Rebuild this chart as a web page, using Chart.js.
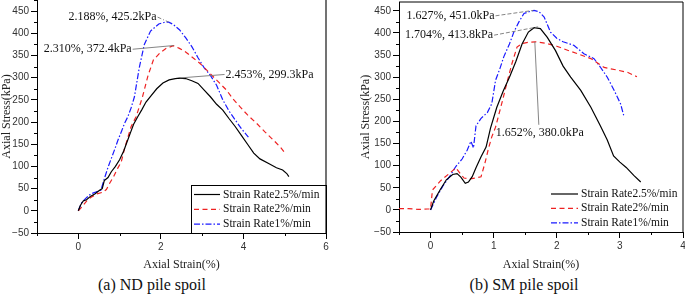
<!DOCTYPE html>
<html><head><meta charset="utf-8">
<script src="https://cdn.jsdelivr.net/npm/chart.js@4/dist/chart.umd.min.js"></script>
<style>
html,body{margin:0;padding:0;background:#fff;overflow:hidden;width:685px;height:295px;}
canvas{position:absolute;top:0;}
.cap{position:absolute;font-family:'Liberation Serif','Times New Roman',serif;font-size:16px;color:#111;white-space:nowrap;transform:translate(-50%,-50%);}
</style></head><body>
<canvas id="cA" width="340" height="272" style="left:0"></canvas>
<canvas id="cB" width="345" height="272" style="left:345px"></canvas>
<div class="cap" style="left:152px;top:285px">(a) ND pile spoil</div>
<div class="cap" style="left:524px;top:285px">(b) SM pile spoil</div>
<script>
// ---------- data ----------
const seriesLabels = ['Strain Rate2.5%/min','Strain Rate2%/min','Strain Rate1%/min'];
const ndRate25 = [[0,0],[0.05,12],[0.12,22],[0.2,25],[0.3,33],[0.4,38],[0.5,45],[0.58,50],[0.63,68],[0.72,75],[0.8,88],[0.9,100],[1.0,115],[1.1,135],[1.18,155],[1.26,175],[1.34,195],[1.44,212],[1.54,228],[1.64,245],[1.77,260],[1.9,275],[2.05,288],[2.2,295],[2.35,298],[2.45,299],[2.6,298],[2.75,293],[2.9,287],[3.05,272],[3.2,257],[3.35,240],[3.5,227],[3.65,208],[3.8,190],[3.95,170],[4.1,150],[4.25,130],[4.4,117],[4.6,107],[4.8,97],[4.95,92],[5.05,84],[5.1,77]];
const ndRate2 = [[0,0],[0.1,10],[0.2,22],[0.3,30],[0.45,38],[0.6,42],[0.68,48],[0.76,62],[0.86,78],[0.95,95],[1.04,110],[1.12,140],[1.2,165],[1.28,190],[1.4,212],[1.55,255],[1.69,305],[1.82,340],[1.97,355],[2.13,366],[2.3,372],[2.45,366],[2.6,358],[2.8,343],[2.95,332],[3.1,318],[3.27,302],[3.43,287],[3.59,272],[3.75,252],[3.92,234],[4.1,216],[4.32,197],[4.52,178],[4.73,159],[4.9,143],[5.01,130]];
const ndRate1 = [[0,0],[0.08,18],[0.18,28],[0.3,38],[0.42,42],[0.55,47],[0.63,72],[0.72,98],[0.8,118],[0.88,138],[0.96,159],[1.05,180],[1.12,197],[1.2,212],[1.28,232],[1.36,257],[1.48,324],[1.6,375],[1.75,405],[1.95,421],[2.1,425],[2.19,425],[2.3,420],[2.45,408],[2.6,390],[2.75,370],[2.9,345],[3.05,322],[3.2,305],[3.35,283],[3.5,250],[3.65,225],[3.8,205],[3.95,185],[4.05,174],[4.12,166]];
const smRate25 = [[0,0],[0.05,20],[0.15,45],[0.25,68],[0.35,80],[0.42,82],[0.48,74],[0.55,60],[0.6,63],[0.66,75],[0.72,95],[0.8,120],[0.88,142],[0.95,185],[1.05,232],[1.15,268],[1.25,300],[1.35,335],[1.45,375],[1.55,402],[1.64,412],[1.74,410],[1.85,390],[1.98,360],[2.1,325],[2.22,300],[2.38,270],[2.54,232],[2.69,190],[2.8,158],[2.9,122],[3.0,108],[3.1,96],[3.22,78],[3.33,63]];
const smRate2 = [[-0.5,3],[-0.35,3],[-0.2,1],[-0.05,2],[0,2],[0.03,45],[0.16,66],[0.32,85],[0.4,95],[0.47,82],[0.53,72],[0.62,70],[0.72,72],[0.8,75],[0.86,105],[0.92,140],[0.97,165],[1.03,187],[1.09,220],[1.14,247],[1.22,293],[1.29,331],[1.37,368],[1.45,376],[1.55,379],[1.66,380],[1.85,376],[2.0,370],[2.17,361],[2.35,352],[2.54,342],[2.75,322],[2.96,316],[3.12,311],[3.27,301]];
const smRate1 = [[0,0],[0.05,15],[0.1,30],[0.2,55],[0.3,75],[0.4,98],[0.5,115],[0.58,135],[0.64,155],[0.68,140],[0.72,190],[0.8,207],[0.9,220],[0.97,240],[1.03,293],[1.1,320],[1.16,346],[1.25,375],[1.32,402],[1.4,425],[1.48,444],[1.56,448],[1.64,451],[1.72,448],[1.8,436],[1.9,402],[2.0,388],[2.1,380],[2.27,372],[2.43,353],[2.59,342],[2.69,323],[2.8,300],[2.91,270],[3.01,240],[3.06,214]];
// annotated peaks [strain, stress] : rate2.5, rate2, rate1
const ndPeaks = [[2.453,299.3],[2.310,372.4],[2.188,425.2]];
const smPeaks = [[1.704,413.8],[1.652,380.0],[1.627,451.0]];
// tick labels
const yTicks = [-50,0,50,100,150,200,250,300,350,400,450];
const ndXTicks = [0,2,4,6];
const smXTicks = [0,1,2,3,4];

// ---------- styles ----------
const colors = ['#000000','#ee2222','#1a1aff'];
const dashes = [[], [5,3.5], [6,2,1.5,2]];
const tickFont = {family:"'Liberation Sans', Arial, sans-serif", size:10};
const titleFont = {family:"'Liberation Serif','Times New Roman',serif", size:12};
const fmt = v => String(v).replace('-', '\u2212');
const mids = arr => { const r=[]; for(let i=0;i<arr.length-1;i++) r.push((arr[i]+arr[i+1])/2); return r; };

function datasets(series){
  return series.map((s,i)=>({
    label: seriesLabels[i],
    data: s.map(p=>({x:p[0],y:p[1]})),
    borderColor: colors[i], borderWidth: 1.2, borderDash: dashes[i],
    pointRadius: 0, tension: 0, fill: false
  }));
}

function scales(xr, xTicks, yr, yWidth, xHeight, yTitlePad){
  return {
    x:{type:'linear',min:xr[0],max:xr[1],
      afterBuildTicks:s=>{s.ticks=xTicks.map(v=>({value:v}));},
      afterFit:s=>{s.height=xHeight;s.paddingLeft=0;s.paddingRight=0;},
      grid:{drawOnChartArea:false,drawTicks:true,tickLength:6,tickColor:'#000',tickWidth:1},
      border:{display:true,color:'#000',width:1},
      ticks:{font:tickFont,color:'#333',padding:2,maxRotation:0,autoSkip:false,callback:v=>fmt(v)},
      title:{display:true,text:'Axial Strain(%)',font:titleFont,color:'#222',padding:{top:0,bottom:0}}
    },
    y:{type:'linear',min:yr[0],max:yr[1],
      afterBuildTicks:s=>{s.ticks=yTicks.map(v=>({value:v}));},
      afterFit:s=>{s.width=yWidth;s.paddingTop=0;s.paddingBottom=0;},
      grid:{drawOnChartArea:false,drawTicks:true,tickLength:6,tickColor:'#000',tickWidth:1},
      border:{display:true,color:'#000',width:1},
      ticks:{font:tickFont,color:'#333',padding:2,autoSkip:false,callback:v=>fmt(v)},
      title:{display:true,text:'Axial Stress(kPa)',font:titleFont,color:'#222',padding:{top:yTitlePad,bottom:0}}
    }
  };
}

// ---------- plugins ----------
const minorTicks = {id:'minorTicks', afterDraw(chart,args,o){
  const {ctx,scales:{x,y},chartArea:a}=chart;
  ctx.save(); ctx.strokeStyle='#000'; ctx.lineWidth=1;
  o.x.forEach(v=>{const px=Math.round(x.getPixelForValue(v))+0.5;ctx.beginPath();ctx.moveTo(px,a.bottom);ctx.lineTo(px,a.bottom+3);ctx.stroke();});
  o.y.forEach(v=>{const py=Math.round(y.getPixelForValue(v))+0.5;ctx.beginPath();ctx.moveTo(a.left,py);ctx.lineTo(a.left-3,py);ctx.stroke();});
  ctx.restore();
}};
const frame = {id:'frame', afterDraw(chart,args,o){
  const {ctx,chartArea:a}=chart; ctx.save(); ctx.strokeStyle=o.color; ctx.lineWidth=o.width;
  ctx.beginPath(); ctx.moveTo(a.right,a.bottom); ctx.lineTo(a.right,a.top);
  if(o.top){ctx.lineTo(a.left,a.top);} ctx.stroke(); ctx.restore();
}};
const legendBox = {id:'legendBox', afterDraw(chart,args,o){
  const {ctx,chartArea:a}=chart; ctx.save();
  if(o.box){ctx.strokeStyle='#000';ctx.lineWidth=1;ctx.strokeRect(o.box.x+0.5,o.box.y+0.5,a.right-o.box.x,a.bottom-o.box.y);}
  ctx.font="11.5px 'Liberation Serif','Times New Roman',serif"; ctx.textBaseline='middle'; ctx.fillStyle='#111';
  chart.data.datasets.forEach((ds,i)=>{
    const yy=o.y+i*o.gap;
    ctx.strokeStyle=ds.borderColor; ctx.lineWidth=ds.borderWidth; ctx.setLineDash(ds.borderDash||[]);
    ctx.beginPath(); ctx.moveTo(o.x,yy); ctx.lineTo(o.x+o.len,yy); ctx.stroke(); ctx.setLineDash([]);
    ctx.fillText(ds.label,o.x+o.len+o.tpad,yy);
  });
  ctx.restore();
}};
const peakNotes = {id:'peakNotes', afterDatasetsDraw(chart,args,o){
  const {ctx,scales:{x,y}}=chart; ctx.save();
  ctx.font="12px 'Liberation Serif','Times New Roman',serif"; ctx.fillStyle='#111'; ctx.textBaseline='middle';
  o.items.forEach(it=>{
    const px=x.getPixelForValue(it.p[0]), py=y.getPixelForValue(it.p[1]);
    const text=it.p[0].toFixed(3)+'%, '+it.p[1].toFixed(1)+'kPa';
    const w=ctx.measureText(text).width;
    const tx=px+it.dx, ty=py+it.dy;
    const left= it.align==='right'? tx-w : it.align==='center'? tx-w/2 : tx;
    ctx.fillText(text,left,ty);
    let lx,ly;
    if(it.align==='right'){lx=tx+1;ly=ty;} else if(it.align==='left'){lx=tx-1;ly=ty;} else {lx=tx-1;ly=ty-8;}
    ctx.strokeStyle='#777'; ctx.lineWidth=0.9; ctx.setLineDash(it.dash||[]);
    ctx.beginPath(); ctx.moveTo(lx,ly); ctx.lineTo(px,py); ctx.stroke(); ctx.setLineDash([]);
  });
  ctx.restore();
}};

function baseOptions(){ return {responsive:false,animation:false,
  plugins:{legend:{display:false},tooltip:{enabled:false}}}; }

// ---------- chart A ----------
const optA = baseOptions();
optA.layout={padding:{left:0,right:14,top:0,bottom:0}};
optA.scales=scales([-1,6],ndXTicks,[-50,475],37,39,0);
optA.plugins.minorTicks={x:mids(ndXTicks).concat([-1]),y:mids(yTicks).concat([475])};
optA.plugins.frame={color:'#444',width:1.5,top:false};
optA.plugins.legendBox={box:{x:191,y:185},x:194,y:194.5,gap:14.8,len:26,tpad:3};
optA.plugins.peakNotes={items:[
  {p:ndPeaks[2],dx:-12,dy:-5,align:'right',dash:[4,2,1,2]},
  {p:ndPeaks[1],dx:-42,dy:3.7,align:'right'},
  {p:ndPeaks[0],dx:46,dy:-3.5,align:'left'}
]};
new Chart(document.getElementById('cA'),{type:'line',
  data:{datasets:datasets([ndRate25,ndRate2,ndRate1])},
  options:optA, plugins:[minorTicks,frame,legendBox,peakNotes]});

// ---------- chart B ----------
const optB = baseOptions();
optB.layout={padding:{left:0,right:7,top:2,bottom:0}};
optB.scales=scales([-0.5,4],smXTicks,[-50,470],54,40,14);
optB.plugins.minorTicks={x:mids(smXTicks).concat([-0.5]),y:mids(yTicks)};
optB.plugins.frame={color:'#000',width:1,top:true};
optB.plugins.legendBox={box:null,x:206,y:194,gap:14.4,len:27,tpad:3};
optB.plugins.peakNotes={items:[
  {p:smPeaks[2],dx:-38.7,dy:5.4,align:'right',dash:[4,2]},
  {p:smPeaks[0],dx:-45,dy:8.3,align:'right',dash:[4,2]},
  {p:smPeaks[1],dx:5,dy:91,align:'center'}
]};
new Chart(document.getElementById('cB'),{type:'line',
  data:{datasets:datasets([smRate25,smRate2,smRate1])},
  options:optB, plugins:[minorTicks,frame,legendBox,peakNotes]});
</script>
</body></html>
